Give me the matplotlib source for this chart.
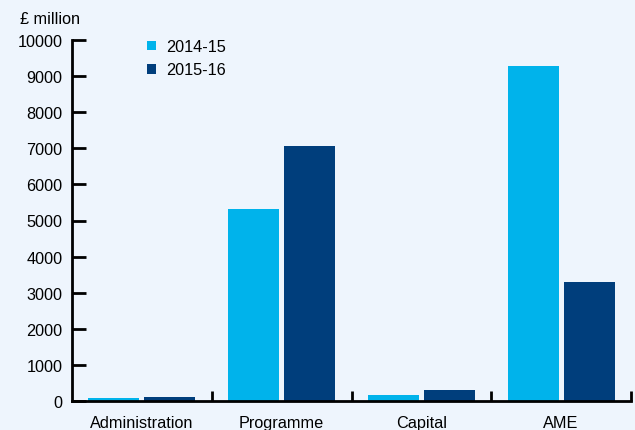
import matplotlib
matplotlib.use("Agg")
import matplotlib.pyplot as plt
from matplotlib.patches import Patch
import numpy as np

plt.rcParams['font.family'] = ['Liberation Sans', 'DejaVu Sans']

categories = ["Administration", "Programme", "Capital", "AME"]
series_names = ["2014-15", "2015-16"]
values_2014_15 = [80, 5320, 170, 9280]
values_2015_16 = [110, 7060, 300, 3300]
y_ticks = [0, 1000, 2000, 3000, 4000, 5000, 6000, 7000, 8000, 9000, 10000]

light = "#00b3eb"
dark = "#003e7c"
bg = "#eef5fd"
fs = 11.7

fig = plt.figure(figsize=(6.35, 4.31), dpi=100, facecolor=bg)
ax = fig.add_axes([72/635, 1 - 402/431, (631 - 72)/635, (402 - 41)/431])
ax.set_facecolor(bg)

x = np.arange(len(categories))
w = 0.365
ax.bar(x - 0.2, values_2014_15, width=w, color=light, label=series_names[0], zorder=2)
ax.bar(x + 0.2, values_2015_16, width=w, color=dark, label=series_names[1], zorder=2)

ax.set_xlim(-0.5, len(categories) - 0.5)
ax.set_ylim(0, 10000)

for s in ["top", "right"]:
    ax.spines[s].set_visible(False)
for s in ["left", "bottom"]:
    ax.spines[s].set_linewidth(2)
    ax.spines[s].set_color("black")

ax.set_yticks(y_ticks)
ax.set_yticklabels([str(v) for v in y_ticks])
ax.tick_params(axis="y", direction="in", length=10, width=2, pad=7, labelsize=fs, colors="black")

ax.set_xticks(x)
ax.set_xticklabels(categories)
ax.tick_params(axis="x", which="major", length=0, pad=10, labelsize=fs)
ax.set_xticks(np.arange(0.5, len(categories)), minor=True)
ax.tick_params(axis="x", which="minor", direction="in", length=7, width=2, color="black")

handles = [Patch(facecolor=light), Patch(facecolor=dark)]
ax.legend(handles, series_names, loc="upper left", bbox_to_anchor=(0.123, 1.02),
          frameon=False, fontsize=fs, handlelength=0.55, handleheight=0.55,
          handletextpad=0.6, labelspacing=0.5, borderaxespad=0)

fig.text(20/635, 1 - 20/431, "£ million", fontsize=fs, va="center", ha="left")

fig.savefig("out.png", dpi=100, facecolor=bg)
